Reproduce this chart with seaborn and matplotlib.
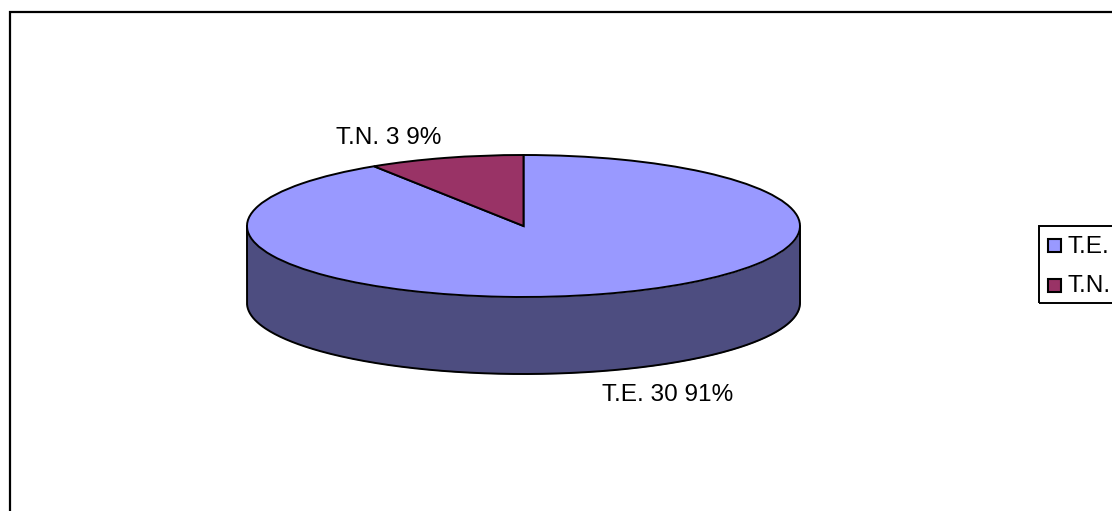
import numpy as np
import matplotlib
matplotlib.use("Agg")
import matplotlib.pyplot as plt
from matplotlib.patches import Rectangle
import seaborn as sns

categories = ["T.E.", "T.N."]
values = [30, 3]
percents = ["91%", "9%"]
top_colors = ["#9999FF", "#993366"]
side_color = "#4D4D80"

W, H = 1112, 511
sns.set_theme(style="white")
plt.rcParams["font.family"] = ["Liberation Sans", "DejaVu Sans"]
palette = sns.color_palette(top_colors)

fig = plt.figure(figsize=(W / 100, H / 100), dpi=100, facecolor="white")


def fx(px):
    return px / W


def fy(py):
    return 1 - py / H


# outer frame runs past the right and bottom edges of the image
fig.add_artist(Rectangle((fx(10), fy(H + 20)), fx(W + 20), (H + 20 - 12) / H,
                         transform=fig.transFigure, fill=False,
                         edgecolor="black", linewidth=1.6))

# pie axes: top ellipse spans px x 247-800, y 155-297; depth 77 px
left, right, top, ell_bottom, bottom = 247, 800, 155, 297, 374
ax = fig.add_axes([fx(left), fy(bottom), (right - left) / W, (bottom - top) / H])
depth = (bottom - ell_bottom) / ((ell_bottom - top) / 2)

theta = np.linspace(np.pi, 2 * np.pi, 300)
ex, ey = np.cos(theta), np.sin(theta)
ax.fill_between(ex, ey, ey - depth, color=side_color, linewidth=0, clip_on=False)
ax.plot(np.r_[ex[0], ex, ex[-1]], np.r_[0, ey - depth, 0], color="black", lw=1.4,
        clip_on=False)

wedges, _ = ax.pie(values, colors=palette, startangle=90, counterclock=False,
                   radius=1, wedgeprops=dict(edgecolor="black", linewidth=1.4,
                                             clip_on=False))
ax.set_aspect("auto")
ax.set_xlim(-1, 1)
ax.set_ylim(-1 - depth, 1)
ax.axis("off")

# data labels
lab_size = 17.6
fig.text(fx(667.5), fy(395), f"{categories[0]} {values[0]} {percents[0]}",
         ha="center", va="center", fontsize=lab_size, color="black")
fig.text(fx(388.5), fy(138), f"{categories[1]} {values[1]} {percents[1]}",
         ha="center", va="center", fontsize=lab_size, color="black")

# legend box runs past the right edge of the image
fig.add_artist(Rectangle((fx(1038.5), fy(302.5)), fx(120), (302.5 - 225.5) / H,
                         transform=fig.transFigure, fill=False,
                         edgecolor="black", linewidth=1.4))
for cat, col, yc in zip(categories, palette, [246, 285]):
    fig.add_artist(Rectangle((fx(1048), fy(yc + 6.5)), 13 / W, 13 / H,
                             transform=fig.transFigure, facecolor=col,
                             edgecolor="black", linewidth=1.5))
    fig.text(fx(1068), fy(yc + 1), cat, ha="left", va="center", fontsize=lab_size,
             color="black")

fig.savefig("out.png", dpi=100)
